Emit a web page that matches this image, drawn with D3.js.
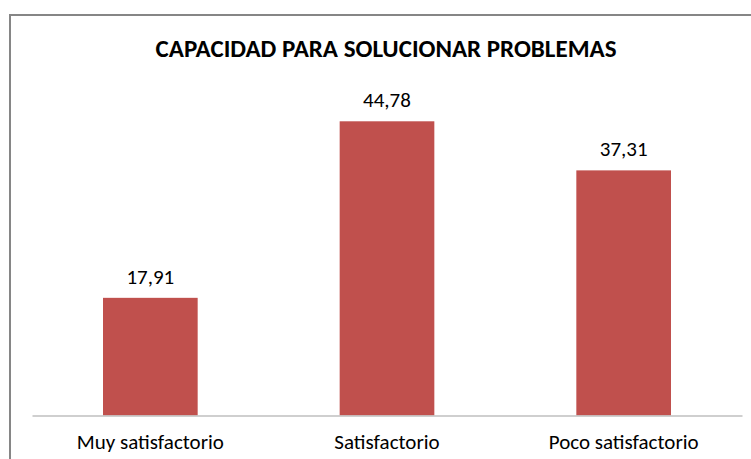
<!DOCTYPE html>
<html>
<head>
<meta charset="utf-8">
<script src="https://cdn.jsdelivr.net/npm/d3@7"></script>
<style>
  body { margin: 0; background: #fff; }
  svg { display: block; font-family: Carlito, Calibri, Lato, sans-serif; }
</style>
</head>
<body>
<script>
var categories = ["Muy satisfactorio", "Satisfactorio", "Poco satisfactorio"];
var values = [17.91, 44.78, 37.31];
var chartTitle = "CAPACIDAD PARA SOLUCIONAR PROBLEMAS";

var w = 751, h = 459;
var plotLeft = 32, plotRight = 742, plotBottom = 415.5, plotTop = 87;

var svg = d3.select("body").append("svg")
  .attr("width", w)
  .attr("height", h);

svg.append("rect").attr("width", w).attr("height", h).attr("fill", "#fff");

// chart frame, runs off the right and bottom edge like the original
svg.append("rect")
  .attr("x", 10).attr("y", 15)
  .attr("width", 800).attr("height", 500)
  .attr("fill", "none")
  .attr("stroke", "#868686")
  .attr("stroke-width", 2);

var x = d3.scaleBand()
  .domain(categories)
  .range([plotLeft, plotRight])
  .paddingInner(0.6)
  .paddingOuter(0.3);

var y = d3.scaleLinear()
  .domain([0, 50])
  .range([plotBottom, plotTop]);

svg.append("text")
  .attr("x", 386).attr("y", 57)
  .attr("text-anchor", "middle")
  .attr("font-weight", "bold")
  .attr("font-size", 25)
  .attr("fill", "#000")
  .text(chartTitle);

svg.selectAll("rect.bar")
  .data(values)
  .enter().append("rect")
  .attr("class", "bar")
  .attr("x", function(d, i) { return x(categories[i]); })
  .attr("y", function(d) { return y(d); })
  .attr("width", x.bandwidth())
  .attr("height", function(d) { return y(0) - y(d); })
  .attr("fill", "#C0504D");

svg.selectAll("text.val")
  .data(values)
  .enter().append("text")
  .attr("class", "val")
  .attr("x", function(d, i) { return x(categories[i]) + x.bandwidth() / 2; })
  .attr("y", function(d) { return y(d) - 14; })
  .attr("text-anchor", "middle")
  .attr("font-size", 21)
  .attr("fill", "#000")
  .text(function(d) { return d3.format(".2f")(d).replace(".", ","); });

// x axis
var xAxis = svg.append("g")
  .attr("transform", "translate(0," + plotBottom + ")")
  .call(d3.axisBottom(x).tickSize(0).tickPadding(19));
xAxis.select(".domain").attr("stroke", "#BFBFBF").attr("stroke-width", 1.5);
xAxis.selectAll("text")
  .attr("font-family", "Carlito, Calibri, Lato, sans-serif")
  .attr("font-size", 21)
  .attr("fill", "#000");
</script>
</body>
</html>
